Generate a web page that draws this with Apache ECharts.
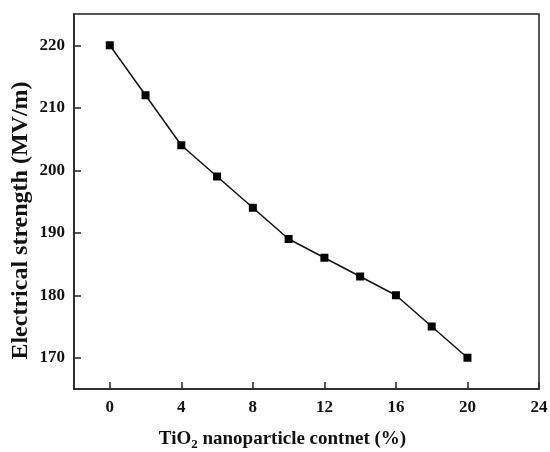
<!DOCTYPE html>
<html>
<head>
<meta charset="utf-8">
<script src="https://cdn.jsdelivr.net/npm/echarts@6/dist/echarts.min.js"></script>
<style>
html, body { margin: 0; padding: 0; background: #fff; }
#chart { width: 550px; height: 452px; }
</style>
</head>
<body>
<div id="chart"></div>
<script>
// TiO2 含量 (%) 与电气强度 (MV/m)
var contentX = [0, 2, 4, 6, 8, 10, 12, 14, 16, 18, 20];
var strengthY = [220, 212, 204, 199, 194, 189, 186, 183, 180, 175, 170];
// 刻度轴: 从 -2 到 24 每 2 一格, 每 4 显示刻度
var xSteps = [-2, 0, 2, 4, 6, 8, 10, 12, 14, 16, 18, 20, 22, 24];
// 从 165 到 225 每 5 一格, 每 10 显示刻度
var ySteps = [165, 170, 175, 180, 185, 190, 195, 200, 205, 210, 215, 220, 225];

var seriesData = [];
for (var i = 0; i < contentX.length; i++) {
    seriesData.push([contentX[i], strengthY[i]]);
}

var font = 'Liberation Serif';
var lineC = '#222';
function everyX(index, value) { return Number(value) % 4 === 0; }
function everyY(index, value) { return Number(value) % 10 === 0; }

var myChart = echarts.init(document.getElementById('chart'));
var option = {
    backgroundColor: '#fff',
    animation: false,
    grid: {
        left: 74,
        right: 11,
        top: 14,
        bottom: 63,
        outerBoundsMode: 'none',
        containLabel: false,
        show: true,
        borderColor: lineC,
        borderWidth: 1.5
    },
    xAxis: [{
        type: 'value',
        min: -2,
        max: 24,
        position: 'bottom',
        name: '{b|TiO}{s|2}{b| nanoparticle contnet (%)}',
        nameLocation: 'middle',
        nameGap: 39,
        nameTextStyle: {
            padding: [0, 48, 0, 0],
            rich: {
                b: { fontFamily: font, fontWeight: 'bold', fontSize: 19, color: '#111' },
                s: { fontFamily: font, fontWeight: 'bold', fontSize: 13, color: '#111', verticalAlign: 'bottom', padding: [10, 0, 0, 0] }
            }
        },
        axisLine: { onZero: false, lineStyle: { color: lineC, width: 1.5 } },
        axisTick: { show: false },
        axisLabel: { show: false },
        splitLine: { show: false }
    }, {
        type: 'category',
        data: xSteps,
        boundaryGap: false,
        position: 'bottom',
        axisLine: { show: false, onZero: false },
        axisTick: { show: true, inside: true, length: 7, interval: everyX, lineStyle: { color: lineC, width: 1.5 } },
        axisLabel: {
            interval: everyX,
            margin: 10,
            fontFamily: font,
            fontWeight: 'bold',
            fontSize: 17,
            color: '#111'
        },
        splitLine: { show: false }
    }],
    yAxis: [{
        type: 'value',
        min: 165,
        max: 225,
        position: 'left',
        name: 'Electrical strength (MV/m)',
        nameLocation: 'middle',
        nameGap: 41,
        nameTextStyle: { fontFamily: font, fontWeight: 'bold', fontSize: 24, color: '#111', padding: [0, 38, 0, 0] },
        axisLine: { show: true, onZero: false, lineStyle: { color: lineC, width: 1.5 } },
        axisTick: { show: false },
        axisLabel: { show: false },
        splitLine: { show: false }
    }, {
        type: 'category',
        data: ySteps,
        boundaryGap: false,
        position: 'left',
        axisLine: { show: false, onZero: false },
        axisTick: { show: true, inside: true, length: 7, interval: everyY, lineStyle: { color: lineC, width: 1.5 } },
        axisLabel: {
            interval: everyY,
            margin: 9,
            fontFamily: font,
            fontWeight: 'bold',
            fontSize: 17,
            color: '#111'
        },
        splitLine: { show: false }
    }],
    series: [{
        type: 'line',
        xAxisIndex: 0,
        yAxisIndex: 0,
        data: seriesData,
        symbol: 'rect',
        symbolSize: 8,
        itemStyle: { color: '#000' },
        lineStyle: { color: '#111', width: 1.5 }
    }]
};
myChart.setOption(option);
</script>
</body>
</html>
